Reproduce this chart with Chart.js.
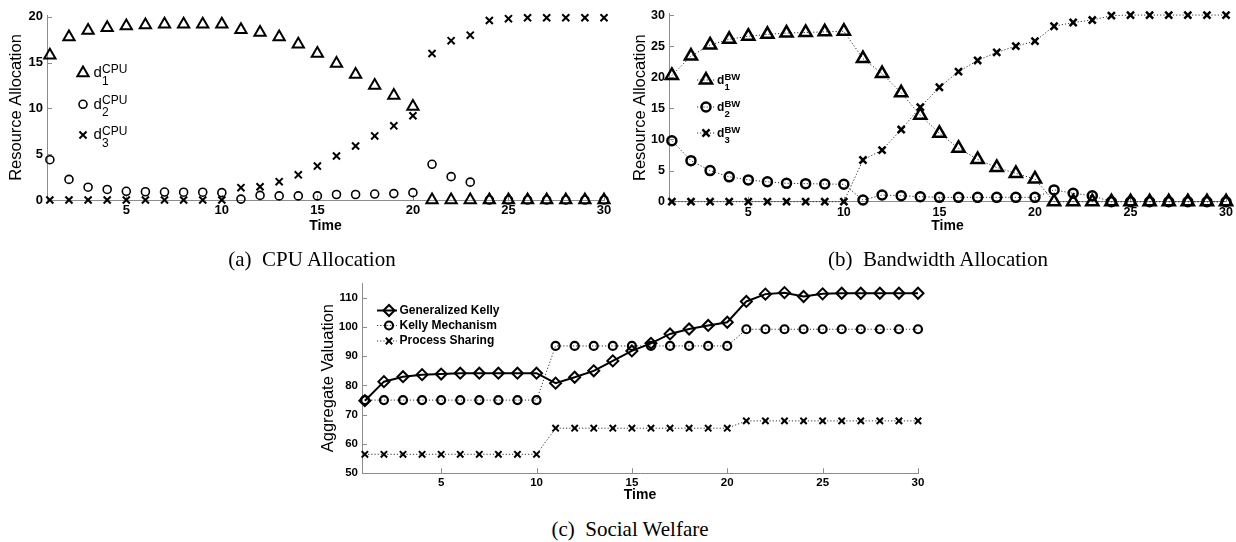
<!DOCTYPE html>
<html>
<head>
<meta charset="utf-8">
<script src="https://cdn.jsdelivr.net/npm/chart.js@4"></script>
<style>
  body { margin: 0; background: #fff; }
  #fig { position: relative; width: 1236px; height: 542px; overflow: hidden; }
  canvas, .cap { position: absolute; }
  .cap { font: 21px 'Liberation Serif', 'Times New Roman', serif; line-height: 21px; width: 400px;
         text-align: center; white-space: pre; color: #000; }
</style>
</head>
<body>
<div id="fig">
  <canvas id="cpuChart" width="620" height="240" style="left:0;top:0"></canvas>
  <canvas id="bwChart" width="616" height="240" style="left:620px;top:0"></canvas>
  <canvas id="welfareChart" width="640" height="235" style="left:300px;top:270px"></canvas>
  <div class="cap" style="left:112px;top:249px">(a)  CPU Allocation</div>
  <div class="cap" style="left:738px;top:249px">(b)  Bandwidth Allocation</div>
  <div class="cap" style="left:430px;top:519px">(c)  Social Welfare</div>
</div>
<script>
// values
const time = [1, 2, 3, 4, 5, 6, 7, 8, 9, 10, 11, 12, 13, 14, 15, 16, 17, 18, 19, 20, 21, 22, 23, 24, 25, 26, 27, 28, 29, 30];
const timeTicks = [5, 10, 15, 20, 25, 30];
const cpuTicks = [0, 5, 10, 15, 20];
const bwTicks = [0, 5, 10, 15, 20, 25, 30];
const welfareTicks = [50, 60, 70, 80, 90, 100, 110];

const cpuD1 = [15.8, 17.8, 18.5, 18.8, 19.0, 19.1, 19.2, 19.2, 19.2, 19.2, 18.6, 18.3, 17.8, 17.0, 16.0, 14.9, 13.7, 12.5, 11.4, 10.2, 0, 0, 0, 0, 0, 0, 0, 0, 0, 0];
const cpuD2 = [4.4, 2.25, 1.4, 1.15, 0.95, 0.9, 0.87, 0.85, 0.85, 0.8, 0.1, 0.5, 0.45, 0.45, 0.45, 0.6, 0.6, 0.65, 0.7, 0.8, 3.9, 2.55, 1.95, 0, 0, 0, 0, 0, 0, 0];
const cpuD3 = [0, 0, 0, 0, 0, 0, 0, 0, 0, 0, 1.35, 1.45, 2.0, 2.75, 3.7, 4.8, 5.9, 7.0, 8.1, 9.2, 16.0, 17.4, 18.0, 19.6, 19.8, 19.9, 19.9, 19.9, 19.9, 19.9];

const bwD1 = [20.3, 23.4, 25.2, 26.1, 26.6, 26.9, 27.1, 27.2, 27.3, 27.4, 23.0, 20.6, 17.5, 13.9, 11.0, 8.6, 6.8, 5.5, 4.55, 3.65, 0, 0, 0, 0, 0, 0, 0, 0, 0, 0];
const bwD2 = [9.8, 6.6, 5.0, 4.0, 3.5, 3.2, 2.95, 2.9, 2.85, 2.8, 0.27, 1.07, 0.96, 0.8, 0.7, 0.7, 0.7, 0.7, 0.7, 0.7, 1.9, 1.35, 0.96, 0, 0, 0, 0, 0, 0, 0];
const bwD3 = [0, 0, 0, 0, 0, 0, 0, 0, 0, 0, 6.7, 8.3, 11.6, 15.2, 18.4, 20.9, 22.7, 24.0, 25.0, 25.8, 28.2, 28.8, 29.2, 29.9, 30, 30, 30, 30, 30, 30];

const genKelly = [74.8, 81.3, 83.0, 83.7, 83.9, 84.2, 84.2, 84.2, 84.2, 84.2, 80.8, 82.8, 85.0, 88.4, 91.8, 94.4, 97.6, 99.3, 100.5, 101.6, 108.7, 111.2, 111.7, 110.4, 111.3, 111.5, 111.5, 111.5, 111.5, 111.5];
const kellyMech = [75, 75, 75, 75, 75, 75, 75, 75, 75, 75, 93.5, 93.5, 93.5, 93.5, 93.5, 93.5, 93.5, 93.5, 93.5, 93.5, 99.2, 99.2, 99.2, 99.2, 99.2, 99.2, 99.2, 99.2, 99.2, 99.2];
const procShare = [56.5, 56.5, 56.5, 56.5, 56.5, 56.5, 56.5, 56.5, 56.5, 56.5, 65.4, 65.4, 65.4, 65.4, 65.4, 65.4, 65.4, 65.4, 65.4, 65.4, 67.9, 67.9, 67.9, 67.9, 67.9, 67.9, 67.9, 67.9, 67.9, 67.9];

const sans = "'Liberation Sans', Arial, Helvetica, sans-serif";
const axisGray = '#8c8c8c';

function pts(vals) { return vals.map((v, i) => ({ x: time[i], y: v })); }

function series(vals, style, r, w, line) {
  const ds = {
    data: pts(vals), pointStyle: style, pointRadius: r, pointBorderWidth: w,
    pointBorderColor: '#000', pointBackgroundColor: 'rgba(0,0,0,0)', tension: 0, clip: false,
    showLine: !!line, borderColor: '#000', borderWidth: 1, borderDash: []
  };
  if (line === 'dot') { ds.borderColor = '#333'; ds.borderDash = [1.2, 2]; }
  if (line === 'solid') { ds.borderWidth = 2; }
  return ds;
}

// small inward tick marks like the matlab axes
const inTicks = {
  id: 'inTicks',
  beforeDatasetsDraw(chart) {
    const { ctx, chartArea: a, scales: { x, y } } = chart;
    ctx.save();
    ctx.strokeStyle = axisGray;
    ctx.lineWidth = 1;
    ctx.beginPath();
    x.ticks.forEach(t => {
      const px = Math.round(x.getPixelForValue(t.value)) + 0.5;
      ctx.moveTo(px, a.bottom); ctx.lineTo(px, a.bottom - 5);
    });
    y.ticks.forEach(t => {
      const py = Math.round(y.getPixelForValue(t.value)) + 0.5;
      ctx.moveTo(a.left, py); ctx.lineTo(a.left + 5, py);
    });
    ctx.stroke();
    ctx.restore();
  }
};

// hand drawn key (needs sub/superscripts)
const key = {
  id: 'key',
  afterDatasetsDraw(chart, args, o) {
    const ctx = chart.ctx;
    ctx.save();
    o.items.forEach((it, i) => {
      const ds = chart.data.datasets[i];
      if (o.line) {
        ctx.strokeStyle = ds.borderColor;
        ctx.lineWidth = ds.borderWidth;
        ctx.setLineDash(ds.borderDash);
        ctx.beginPath(); ctx.moveTo(o.line[0], it.y); ctx.lineTo(o.line[1], it.y); ctx.stroke();
      }
      ctx.setLineDash([]);
      ctx.strokeStyle = '#000';
      ctx.fillStyle = 'rgba(0,0,0,0)';
      ctx.lineWidth = ds.pointBorderWidth;
      Chart.helpers.drawPoint(ctx, { pointStyle: ds.pointStyle, radius: ds.pointRadius, borderWidth: ds.pointBorderWidth, rotation: 0 }, o.markX, it.y);
      ctx.fillStyle = '#000';
      ctx.textBaseline = o.baseline || 'alphabetic';
      ctx.font = o.font;
      ctx.fillText(it.text, o.textX, it.y + (o.dy || 0));
      if (it.sub) {
        ctx.font = o.smallFont;
        ctx.fillText(it.sub, o.subX, it.y + o.subDy);
        ctx.fillText(it.sup, o.subX, it.y + o.supDy);
      }
    });
    ctx.restore();
  }
};

function panel(id, p) {
  const tickFont = { family: sans, size: p.tickSize, weight: 'bold' };
  return new Chart(document.getElementById(id), {
    type: 'line',
    data: { datasets: p.datasets },
    options: {
      responsive: false,
      animation: false,
      layout: { padding: { left: 0, right: p.padRight, top: p.padTop, bottom: 0 } },
      plugins: { legend: { display: false }, tooltip: { enabled: false }, key: p.key },
      scales: {
        x: {
          type: 'linear', min: 0.85, max: 30,
          grid: { display: false, drawTicks: false, tickLength: 0 }, border: { color: axisGray },
          ticks: { color: '#000', padding: p.xPad, autoSkip: false, maxRotation: 0, font: tickFont },
          afterBuildTicks: s => { s.ticks = timeTicks.map(v => ({ value: v })); },
          afterFit: s => { s.height = p.xHeight; },
          title: { display: true, text: 'Time', color: '#000', font: { family: sans, size: 14, weight: 'bold' }, padding: { top: 0, bottom: p.timePad } }
        },
        y: {
          min: p.yMin, max: p.yMax,
          grid: { display: false, drawTicks: false, tickLength: 0 }, border: { color: axisGray },
          ticks: { color: '#000', padding: p.yPad, font: tickFont },
          afterBuildTicks: s => { s.ticks = p.yTicks.map(v => ({ value: v })); },
          afterFit: s => { s.width = p.yWidth; },
          title: { display: true, text: p.yTitle, color: '#000', font: { family: sans, size: 16.5 }, padding: { top: p.yTitlePad, bottom: 0 } }
        }
      }
    },
    plugins: [inTicks, key]
  });
}

panel('cpuChart', {
  datasets: [
    series(cpuD1, 'triangle', 6.5, 2),
    series(cpuD2, 'circle', 4, 1.6),
    series(cpuD3, 'crossRot', 5, 2)
  ],
  yMin: 0, yMax: 20.2, yTicks: cpuTicks, yTitle: 'Resource Allocation', tickSize: 13,
  yWidth: 47, padRight: 16, padTop: 15, xHeight: 40,
  xPad: 3, yPad: 4, timePad: 5.6, yTitlePad: 7,
  key: {
    markX: 83, textX: 93.5, subX: 102, dy: 4.3, subDy: 12, supDy: 0,
    font: '15px ' + sans, smallFont: '12px ' + sans,
    items: [
      { y: 73, text: 'd', sub: '1', sup: 'CPU' },
      { y: 104.3, text: 'd', sub: '2', sup: 'CPU' },
      { y: 135, text: 'd', sub: '3', sup: 'CPU' }
    ]
  }
});

panel('bwChart', {
  datasets: [
    series(bwD1, 'triangle', 7, 2.5, 'dot'),
    series(bwD2, 'circle', 4.5, 2.5, 'dot'),
    series(bwD3, 'crossRot', 5, 2.5, 'dot')
  ],
  yMin: 0, yMax: 30.25, yTicks: bwTicks, yTitle: 'Resource Allocation', tickSize: 12.5,
  yWidth: 49, padRight: 7, padTop: 13.5, xHeight: 38.3,
  xPad: 3, yPad: 4, timePad: 5.6, yTitlePad: 10.5,
  key: {
    markX: 86, line: [77, 96], textX: 97, subX: 104.5, dy: 4, subDy: 9.5, supDy: 0,
    font: 'bold 12px ' + sans, smallFont: 'bold 9.5px ' + sans,
    items: [
      { y: 80, text: 'd', sub: '1', sup: 'BW' },
      { y: 107, text: 'd', sub: '2', sup: 'BW' },
      { y: 133, text: 'd', sub: '3', sup: 'BW' }
    ]
  }
});

panel('welfareChart', {
  datasets: [
    series(genKelly, 'rectRot', 5.5, 2, 'solid'),
    series(kellyMech, 'circle', 4, 2.2, 'dot'),
    series(procShare, 'crossRot', 4.5, 2, 'dot')
  ],
  yMin: 50, yMax: 115, yTicks: welfareTicks, yTitle: 'Aggregate Valuation', tickSize: 11.5,
  yWidth: 62, padRight: 22, padTop: 13, xHeight: 31.7,
  xPad: 3, yPad: 4, timePad: 1.6, yTitlePad: 18.5,
  key: {
    markX: 89, line: [77, 97], textX: 99.5, baseline: 'middle',
    font: 'bold 12px ' + sans,
    items: [
      { y: 40.5, text: 'Generalized Kelly' },
      { y: 55.5, text: 'Kelly Mechanism' },
      { y: 71, text: 'Process Sharing' }
    ]
  }
});
</script>
</body>
</html>
